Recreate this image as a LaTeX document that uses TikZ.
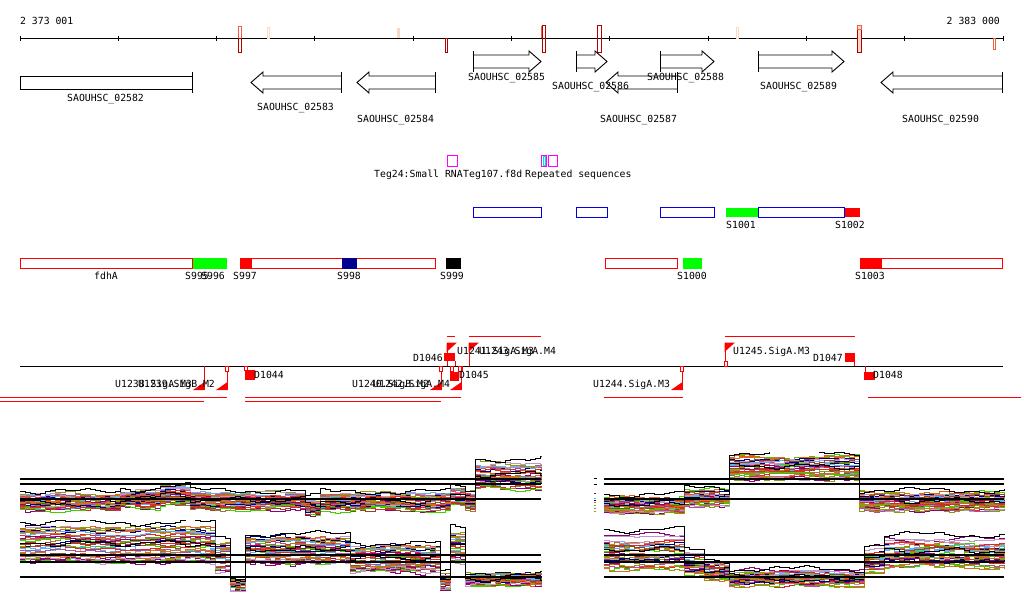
\documentclass[tikz,border=0pt]{standalone}
\usepackage{fontspec}
\newfontfamily\monofam{DejaVu Sans Mono}
\definecolor{hmorange}{HTML}{F06040}
\definecolor{hmdark}{HTML}{B00000}
\definecolor{hmpale}{HTML}{F8D8C8}
\definecolor{tagmag}{HTML}{FF00FF}
\definecolor{tagcyan}{HTML}{00E0E0}
\definecolor{segblue}{HTML}{0000E0}
\definecolor{seggreen}{HTML}{00FF00}
\definecolor{segred}{HTML}{FF0000}
\definecolor{segnavy}{HTML}{000090}
\definecolor{pc0}{HTML}{E05A28}
\definecolor{pc1}{HTML}{A07838}
\definecolor{pc2}{HTML}{8C9A10}
\definecolor{pc3}{HTML}{40D000}
\definecolor{pc4}{HTML}{900078}
\definecolor{pc5}{HTML}{000080}
\definecolor{pc6}{HTML}{60B0F0}
\definecolor{pc7}{HTML}{C098C8}
\definecolor{pc8}{HTML}{E02828}
\definecolor{pc9}{HTML}{8A4A28}
\definecolor{pc10}{HTML}{D07020}
\definecolor{pc11}{HTML}{B05090}
% panel profiles
\pgfmathdeclarefunction{luc}{1}{\pgfmathparse{(#1<120)?502:((#1<160)?499:((#1<190)?496:((#1<305)?501:((#1<320)?507:((#1<450)?502:((#1<462)?497:((#1<473)?501:476)))))))}}
\pgfmathdeclarefunction{lus}{1}{\pgfmathparse{(#1<473)?8:13}}
\pgfmathdeclarefunction{llc}{1}{\pgfmathparse{(#1<212)?546:((#1<227)?558:((#1<245)?585:((#1<348)?551:((#1<438)?560:((#1<449)?582:((#1<462)?548:580))))))}}
\pgfmathdeclarefunction{lls}{1}{\pgfmathparse{(#1<212)?18:((#1<227)?15:((#1<245)?6:((#1<438)?13:((#1<449)?7:((#1<462)?16:5)))))}}
\pgfmathdeclarefunction{ruc}{1}{\pgfmathparse{(#1<680)?505:((#1<728)?498:((#1<858)?468:502))}}
\pgfmathdeclarefunction{rus}{1}{\pgfmathparse{(#1<728)?8:((#1<858)?12:9)}}
\pgfmathdeclarefunction{rlc}{1}{\pgfmathparse{(#1<680)?552:((#1<700)?564:((#1<727)?571:((#1<860)?578:((#1<880)?560:553))))}}
\pgfmathdeclarefunction{rls}{1}{\pgfmathparse{(#1<680)?17:((#1<700)?11:((#1<727)?8:((#1<860)?7:((#1<880)?12:14))))}}
\newcommand\drawpanel[5]{%
  \pgfmathsetseed{#5}%
  \foreach \i in {1,...,34} {%
    \pgfmathsetmacro\rr{rand}%
    \pgfmathsetmacro\kd{1+3*rnd}%
    \pgfmathsetmacro\ke{7+10*rnd}%
    \pgfmathsetmacro\ph{360*rnd}%
    \pgfmathsetmacro\pj{360*rnd}%
    \pgfmathsetmacro\am{0.5+2.5*rnd}%
    \pgfmathsetmacro\an{0.3+1.5*rnd}%
    \pgfmathtruncatemacro\ci{mod(\i,12)}%
    \draw[plotline, pc\ci] (#3,{#1(#3)+(\rr)*#2(#3)}) \foreach \x in {#4} { -| (\x,{#1(\x)+(\rr)*#2(\x)+\am*sin(\x*\kd+\ph)+\an*sin(mod(\x,360)*\ke+\pj)+0.4*rand}) };
  }%
  \foreach \rr/\kd/\ph in {-1.3/3/40,-0.15/5/200} {%
    \draw[plotline, black, line width=0.9pt] (#3,{#1(#3)+(\rr)*#2(#3)}) \foreach \x in {#4} { -| (\x,{#1(\x)+(\rr)*#2(\x)+2.2*sin(\x*\kd+\ph)+1.2*sin(mod(\x,360)*11+\ph)}) };
  }%
}
\tikzset{
  lbl/.style={font=\monofam\fontsize{9.8}{10}\selectfont, inner sep=0pt, anchor=base west, text=black},
  gene/.style={draw=black, line width=0.9pt, fill=white, line join=miter},
  plotline/.style={line width=0.55pt},
  refline/.style={draw=black, line width=1.1pt},
  prom/.style={draw=segred, line width=0.9pt},
}
\begin{document}
\begin{tikzpicture}[x=1pt, y=-1pt]
\useasboundingbox (0,0) rectangle (1024,611);
\fill[white] (0,0) rectangle (1024,611);
% ---------- ruler ----------
\node[lbl] (posL) at (20,24) {2 373 001};
\node[lbl, anchor=base east] (posR) at (1000,24) {2 383 000};
\draw[black, line width=0.9pt] (20,38) -- (1003,38);
\foreach \k in {0,...,10} { \draw[black, line width=0.9pt] ({20+98.3*\k},35.5) -- ({20+98.3*\k},40.5); }
% heat marks
\draw[hmorange, line width=0.9pt] (238.5,26) rectangle (241.5,38);
\draw[hmdark, line width=0.9pt] (238.5,38) rectangle (241.5,52);
\draw[hmpale, line width=0.9pt] (267.5,27) rectangle (269.5,38);
\fill[hmpale] (397,28) rectangle (399.5,38);
\draw[hmdark, line width=0.8pt] (445.3,38) rectangle (447,52);
\draw[hmdark, line width=0.9pt] (542,25) rectangle (545.5,52);
\draw[hmorange, line width=0.9pt] (541.3,25.5) -- (541.3,38);
\draw[hmdark, line width=0.9pt] (597.5,25) rectangle (601,52);
\draw[hmpale, line width=0.9pt] (736,27.5) rectangle (738.5,38);
\draw[hmdark, line width=0.9pt, fill=hmpale] (857,25) rectangle (861.5,52);
\draw[hmorange, line width=0.9pt] (857,25) rectangle (861.5,29);
\draw[hmorange, line width=0.9pt] (993.5,38.5) rectangle (995.3,49);
% ---------- genes ----------
\foreach \a/\t in {473/541, 576/607, 660/714, 758/844} {
  \draw[gene] (\a,55) -- ({\t-12},55) -- ({\t-12},51) -- (\t,61.5) -- ({\t-12},72) -- ({\t-12},68) -- (\a,68);
  \draw[black, line width=0.9pt] (\a,51) -- (\a,72);
}
\draw[gene] (20,76) rectangle (192,89);
\draw[black, line width=0.9pt] (192,72) -- (192,93);
\foreach \t/\e in {251/341, 357/435, 606/677, 881/1002} {
  \draw[gene] (\e,76) -- ({\t+12},76) -- ({\t+12},72) -- (\t,82.5) -- ({\t+12},93) -- ({\t+12},89) -- (\e,89);
  \draw[black, line width=0.9pt] (\e,72) -- (\e,93);
}
\node[lbl] (g82) at (67,101) {SAOUHSC\_02582};
\node[lbl] (g83) at (257,110) {SAOUHSC\_02583};
\node[lbl] (g84) at (357,122) {SAOUHSC\_02584};
\node[lbl] (g85) at (468,80) {SAOUHSC\_02585};
\node[lbl] (g86) at (552,89) {SAOUHSC\_02586};
\node[lbl] (g88) at (647,80) {SAOUHSC\_02588};
\node[lbl] (g89) at (760,89) {SAOUHSC\_02589};
\node[lbl] (g87) at (600,122) {SAOUHSC\_02587};
\node[lbl] (g90) at (902,122) {SAOUHSC\_02590};
% ---------- small RNA / repeats ----------
\draw[tagmag, line width=0.9pt] (447.5,155.5) rectangle (457,166);
\draw[tagmag, line width=0.9pt] (541.5,155.5) rectangle (546,166);
\draw[tagcyan, line width=0.9pt] (543,156.5) rectangle (545,165);
\draw[tagmag, line width=0.9pt] (548.5,155.5) rectangle (557,166);
\node[lbl] (t24) at (374,177) {Teg24:Small RNA};
\node[lbl] (t107) at (463,177) {Teg107.f8d};
\node[lbl] (trep) at (525,177) {Repeated sequences};
% ---------- blue segments ----------
\fill[seggreen] (726,207.5) rectangle (758,217);
\fill[segred] (844,207.5) rectangle (860,217);
\foreach \a/\b in {473/541, 576/607, 660/714, 758/844} { \draw[segblue, line width=0.9pt] (\a,207.5) rectangle (\b,217); }
\node[lbl] (s1001) at (726,228) {S1001};
\node[lbl] (s1002) at (835,228) {S1002};
% ---------- red segments ----------
\fill[seggreen] (192,258) rectangle (227,268.5);
\draw[segred, line width=0.9pt] (20.5,258.5) rectangle (192,268.5);
\fill[segred] (240,258) rectangle (252,268.5);
\draw[segred, line width=0.9pt] (240.5,258.5) rectangle (435,268.5);
\fill[segnavy] (342,258) rectangle (357,268.5);
\fill[black] (446,258) rectangle (461,268.5);
\draw[segred, line width=0.9pt] (605.5,258.5) rectangle (677,268.5);
\fill[seggreen] (683,258) rectangle (702,268.5);
\fill[segred] (860,258) rectangle (882,268.5);
\draw[segred, line width=0.9pt] (860.5,258.5) rectangle (1002,268.5);
\node[lbl] (fdhA) at (94,279) {fdhA};
\node[lbl] (s995) at (185,279) {S995};
\node[lbl] (s996) at (201,279) {S996};
\node[lbl] (s997) at (233,279) {S997};
\node[lbl] (s998) at (337,279) {S998};
\node[lbl] (s999) at (440,279) {S999};
\node[lbl] (s1000) at (677,279) {S1000};
\node[lbl] (s1003) at (855,279) {S1003};
% ---------- promoters / terminators ----------
\draw[black, line width=0.9pt] (20,366) -- (1003,366);
\foreach \a/\b/\y in {0/227/397, 245/461/397, 604/683/397, 868/1021/397, 0/204/401, 245/441/401, 447/455/336, 469/541/336, 725/855/336} {
  \draw[segred, line width=0.9pt] (\a,\y) -- (\b,\y);
}
\foreach \p/\h in {204/0, 227/1, 441/1, 461/1, 682/1} {
  \draw[prom] (\p,366) -- (\p,390);
  \ifnum\h=1 \draw[prom, fill=white] ({\p-2},366) rectangle ({\p+1.5},371); \fi
  \fill[segred] ({\p-11},390) -- ({\p+0.5},390) -- ({\p+0.5},382) -- cycle;
}
\foreach \p in {447, 469, 725} {
  \draw[prom] (\p,343) -- (\p,366);
  \fill[segred] ({\p-0.5},342.5) -- ({\p+10},342.5) -- ({\p-0.5},352) -- cycle;
}
\draw[prom, fill=white] (724,361) rectangle (727,366);
\draw[prom, fill=white] (244,366) rectangle (247,370);
\fill[segred] (244.5,370) rectangle (255,380);
\fill[segred] (444,353) rectangle (455,361);
\draw[prom] (455,361) -- (455,366);
\draw[prom, fill=white] (450.5,366) rectangle (453,371);
\draw[prom, fill=white] (458,366) rectangle (461,371);
\fill[segred] (450,372) rectangle (458.5,381);
\fill[segred] (845,353) rectangle (854.5,362);
\draw[prom] (854,362) -- (854,366);
\draw[prom] (865,366) -- (865,372);
\fill[segred] (864,372) rectangle (875,380);
\node[lbl] (u1238) at (115,387) {U1238.SigA.M3};
\node[lbl] (u1239) at (138,387) {U1239.SigB.M2};
\node[lbl] (d1044) at (254,378) {D1044};
\node[lbl] (u1240) at (352,387) {U1240.SigB.M2};
\node[lbl] (u1242) at (373,387) {U1242.SigA.M4};
\node[lbl] (d1045) at (459,378) {D1045};
\node[lbl] (d1046) at (413,361) {D1046};
\node[lbl] (u1241) at (457,354) {U1241.SigA.M3};
\node[lbl] (u1243) at (479,354) {U1243.SigA.M4};
\node[lbl] (u1244) at (593,387) {U1244.SigA.M3};
\node[lbl] (u1245) at (733,354) {U1245.SigA.M3};
\node[lbl] (d1047) at (813,361) {D1047};
\node[lbl] (d1048) at (873,378) {D1048};
% ---------- expression panels ----------
\begin{scope}
  \clip (19,455) rectangle (542,519);
  \drawpanel{luc}{lus}{20}{25,30,...,540,541}{101}
\end{scope}
\begin{scope}
  \clip (19,520) rectangle (542,596);
  \drawpanel{llc}{lls}{20}{25,30,...,540,541}{202}
\end{scope}
\begin{scope}
  \clip (603,452) rectangle (1005,519);
  \drawpanel{ruc}{rus}{604}{609,614,...,1004}{303}
\end{scope}
\begin{scope}
  \clip (603,520) rectangle (1005,596);
  \drawpanel{rlc}{rls}{604}{609,614,...,1004}{404}
\end{scope}
\foreach \y in {479,484,499,555,562,577} {
  \draw[refline] (20,\y) -- (541,\y);
  \draw[refline] (604,\y) -- (1004,\y);
}
\draw[black, line width=0.9pt] (594,478.5) -- (597,478.5) (594,484) -- (597,484);
\foreach \y/\c in {493/pc4, 498/pc6, 500/pc5, 502/pc0, 505/pc3, 508/pc1, 511/pc2} { \draw[\c, line width=0.9pt] (594,\y) -- (596,\y); }
\end{tikzpicture}
\end{document}
